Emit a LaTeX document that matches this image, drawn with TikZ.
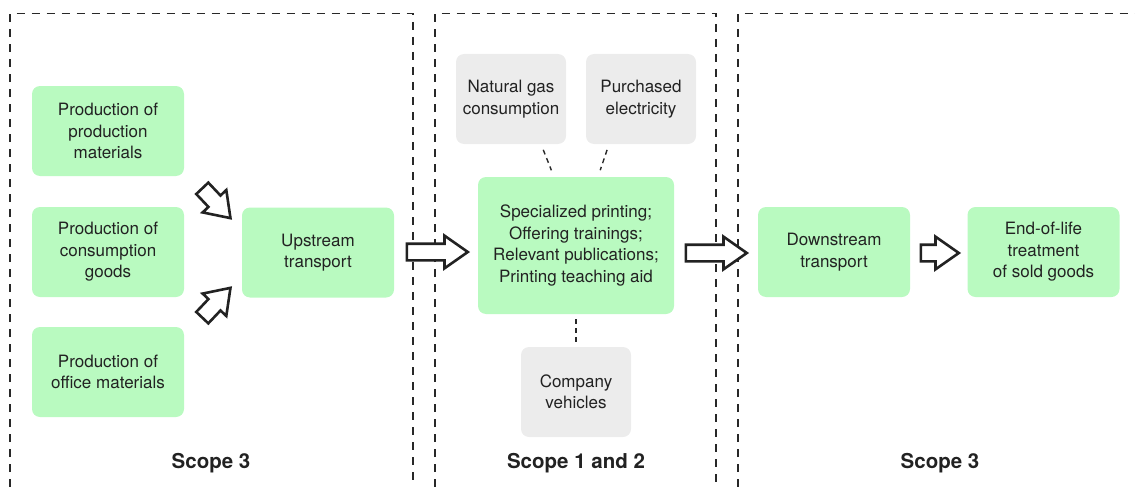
\documentclass[tikz,border=0pt]{standalone}
\usepackage{fontspec}
\setmainfont{TeX Gyre Heros}
\usetikzlibrary{shapes.arrows,calc}
\definecolor{boxgreen}{RGB}{185,250,192}
\definecolor{boxgray}{RGB}{236,236,236}
\definecolor{ink}{RGB}{34,34,34}
\definecolor{dashink}{RGB}{40,40,40}
\begin{document}
\begin{tikzpicture}[x=1pt,y=-1pt,
  every node/.style={text=ink, font=\fontsize{17}{21.5}\selectfont, align=center, inner sep=0pt},
  gbox/.style={fill=boxgreen, rounded corners=8pt, minimum width=152pt, minimum height=90pt},
  sbox/.style={fill=boxgray, rounded corners=8pt, minimum width=110pt, minimum height=90pt},
  frame/.style={draw=dashink, line width=1.9pt, dash pattern=on 8pt off 7pt},
  conn/.style={draw=dashink, line width=1.4pt, dash pattern=on 5pt off 4pt},
  barrow/.style={single arrow, draw=ink, fill=white, line width=2.6pt, inner xsep=0pt, inner ysep=7pt,
    minimum width=30pt, single arrow head extend=8pt, single arrow tip angle=70, anchor=tail},
  scopelbl/.style={font=\fontsize{20.5}{24}\selectfont\bfseries, anchor=base}
]
\useasboundingbox (0,0) rectangle (1135,487);
% frames
\draw[frame] (10,487) -- (10,13.5) -- (413,13.5) -- (413,487);
\draw[frame] (435,487) -- (435,13.5) -- (716,13.5) -- (716,487);
\draw[frame] (738,487) -- (738,13.5) -- (1135,13.5);
% nodes
\node[gbox] (pm) at (108,131) {Production of\\production\\materials};
\node[gbox] (pc) at (108,252) {Production of\\consumption\\goods};
\node[gbox] (po) at (108,372) {Production of\\office materials};
\node[gbox] (up) at (318,252.5) {Upstream\\transport};
\node[fill=boxgreen, rounded corners=8pt, minimum width=196pt, minimum height=137pt] (ce) at (576,245.5)
  {Specialized printing;\\Offering trainings;\\Relevant publications;\\Printing teaching aid};
\node[sbox] (gas) at (511,99) {Natural gas\\consumption};
\node[sbox] (el) at (641,99) {Purchased\\electricity};
\node[sbox] (ve) at (576,392) {Company\\vehicles};
\node[gbox] (dn) at (834,252) {Downstream\\transport};
\node[gbox] (eol) at (1043.5,252) {End-of-life\\treatment\\of sold goods};
% scope labels
\node[scopelbl] (s1) at (211,468) {Scope 3};
\node[scopelbl] (s2) at (576,468) {Scope 1 and 2};
\node[scopelbl] (s3) at (940,468) {Scope 3};
% dashed connectors
\draw[conn, shorten <=6pt, shorten >=7pt] ($(gas.south)+(30,0)$) -- ($(ce.north)+(-22,0)$);
\draw[conn, shorten <=6pt, shorten >=7pt] ($(el.south)+(-32,0)$) -- ($(ce.north)+(22,0)$);
\draw[conn, shorten <=5pt, shorten >=5pt] (ce.south) -- (ve.north);
% block arrows
\node[barrow, minimum height=41pt, rotate=-46.6] (a1) at (201.4,187.4) {};
\node[barrow, minimum height=41pt, rotate=46.6] (a2) at (201.4,318.6) {};
\node[barrow, minimum height=61pt] (a3) at (405.5,252) {};
\node[barrow, minimum height=61pt] (a4) at (684.5,253) {};
\node[barrow, minimum height=38pt] (a5) at (919.5,253) {};
\end{tikzpicture}
\end{document}
